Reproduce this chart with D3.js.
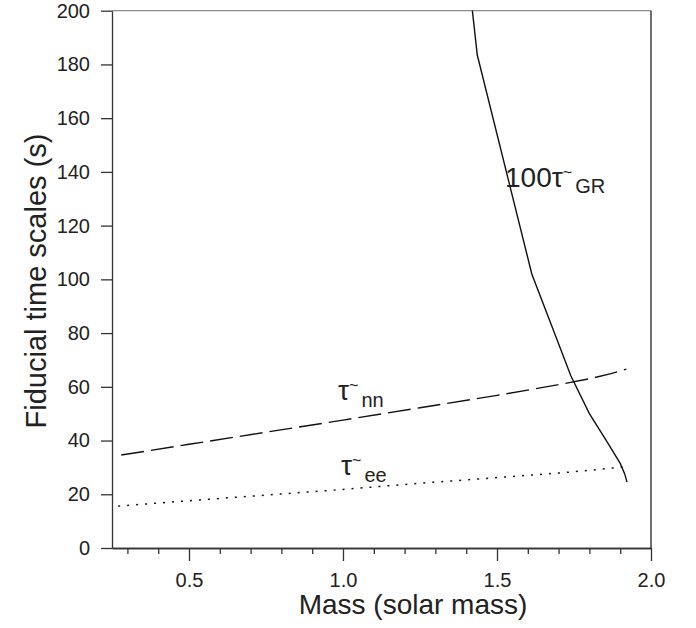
<!DOCTYPE html>
<html>
<head>
<meta charset="utf-8">
<script src="https://cdn.jsdelivr.net/npm/d3@7"></script>
<style>
  body { margin: 0; background: #fff; }
  text { font-family: "Liberation Sans", Arial, sans-serif; fill: #222; }
</style>
</head>
<body>
<svg id="chart" width="696" height="628"></svg>
<script>
// data
const grMass = [1.420, 1.436, 1.613, 1.68, 1.74, 1.80, 1.86, 1.90, 1.915, 1.922];
const grTime = [200, 183.5, 102, 82, 64, 50, 39, 31.5, 27.5, 24.5];   // 100 x tau_GR

const nnMass = [0.28, 0.5, 0.75, 1.0, 1.25, 1.5, 1.7, 1.8, 1.87, 1.92];
const nnTime = [34.6, 38.6, 43.1, 47.6, 52.2, 56.8, 60.8, 63.0, 64.9, 66.6];

const eeMass = [0.27, 0.5, 0.75, 1.0, 1.25, 1.5, 1.7, 1.8, 1.92];
const eeTime = [15.6, 17.6, 19.7, 21.8, 24.1, 26.2, 27.9, 28.9, 30.3];

const yTicks = [0, 20, 40, 60, 80, 100, 120, 140, 160, 180, 200];
const xMajor = [0.5, 1.0, 1.5, 2.0];
const xMinor = [0.3, 0.4, 0.6, 0.7, 0.8, 0.9, 1.1, 1.2, 1.3, 1.4, 1.6, 1.7, 1.8, 1.9];

const svg = d3.select('#chart');
const plotL = 112, plotR = 651, plotT = 10.7, plotB = 548;

const x = d3.scaleLinear().domain([0.25, 2.0]).range([plotL, plotR]);
const y = d3.scaleLinear().domain([0, 200]).range([plotB, plotT]);

// frame: top (grey) and right
svg.append('line')
    .attr('x1', plotL).attr('x2', plotR).attr('y1', plotT).attr('y2', plotT)
    .style('stroke', '#8a8a8a').style('stroke-width', 1.3);
svg.append('line')
    .attr('x1', plotR).attr('x2', plotR).attr('y1', plotT).attr('y2', plotB)
    .style('stroke', '#222').style('stroke-width', 1.3);

// y axis
const yAxis = svg.append('g')
    .attr('transform', `translate(${plotL},0)`)
    .call(d3.axisLeft(y).tickValues(yTicks).tickSize(11).tickPadding(11).tickSizeOuter(0));

// x axis, minor ticks then majors with labels
const xMinorAxis = svg.append('g')
    .attr('transform', `translate(0,${plotB})`)
    .call(d3.axisBottom(x).tickValues(xMinor).tickSize(6).tickFormat('').tickSizeOuter(0));
const xAxis = svg.append('g')
    .attr('transform', `translate(0,${plotB})`)
    .call(d3.axisBottom(x).tickValues(xMajor).tickSize(13).tickPadding(12)
        .tickFormat(d3.format('.1f')).tickSizeOuter(0));

svg.selectAll('.domain, .tick line')
    .style('stroke', '#333').style('stroke-width', 1.3);
svg.selectAll('.tick text')
    .style('font-size', '20px').style('fill', '#222')
    .style('font-family', '"Liberation Sans", Arial, sans-serif');

// curves
const line = d3.line().x(d => x(d[0])).y(d => y(d[1]));

svg.append('path')
    .datum(d3.zip(grMass, grTime))
    .attr('d', line)
    .style('fill', 'none').style('stroke', '#111').style('stroke-width', 1.4);

svg.append('path')
    .datum(d3.zip(nnMass, nnTime))
    .attr('d', line)
    .style('fill', 'none').style('stroke', '#111').style('stroke-width', 1.4)
    .style('stroke-dasharray', '23,7');

svg.append('path')
    .datum(d3.zip(eeMass, eeTime))
    .attr('d', line)
    .style('fill', 'none').style('stroke', '#111').style('stroke-width', 1.5)
    .style('stroke-dasharray', '2,7');

// curve labels
function tauLabel(px, py, prefix, sub, subDy) {
    const t = svg.append('text').attr('x', px).attr('y', py).style('font-size', '28px');
    t.append('tspan').text(prefix + 'τ');
    t.append('tspan').attr('dy', -9).style('font-size', '16px').text('~');
    t.append('tspan').attr('dx', 3).attr('dy', 9 + subDy).style('font-size', '20px').text(sub);
}
tauLabel(505, 187, '100', 'GR', 6);
tauLabel(338, 400, '', 'nn', 7);
tauLabel(341, 475, '', 'ee', 7);

// axis titles
svg.append('text')
    .attr('x', 413).attr('y', 614)
    .attr('text-anchor', 'middle')
    .style('font-size', '28px')
    .text('Mass (solar mass)');

svg.append('text')
    .attr('transform', 'translate(46,281) rotate(-90)')
    .attr('text-anchor', 'middle')
    .style('font-size', '29px')
    .text('Fiducial time scales (s)');
</script>
</body>
</html>
